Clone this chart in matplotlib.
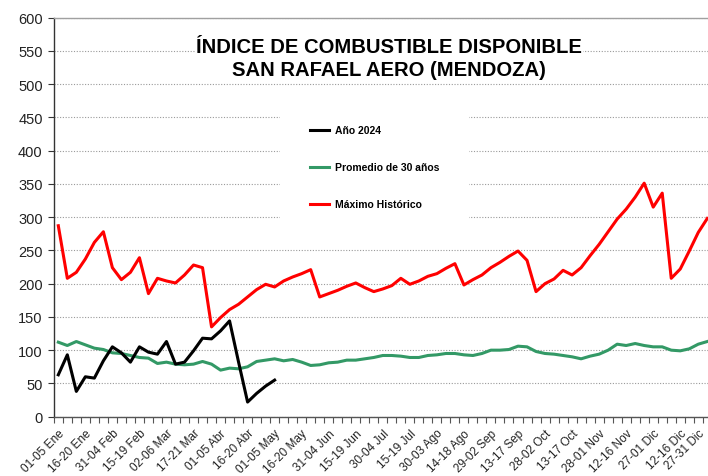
import numpy as np
import matplotlib
matplotlib.use("Agg")
import matplotlib.pyplot as plt
import matplotlib.transforms as mtransforms
from matplotlib.ticker import FixedLocator, MultipleLocator, NullFormatter

plt.rcParams['font.family'] = ['Liberation Sans', 'DejaVu Sans']

tick_labels = ["01-05 Ene", "16-20 Ene", "31-04 Feb", "15-19 Feb", "02-06 Mar", "17-21 Mar",
               "01-05 Abr", "16-20 Abr", "01-05 May", "16-20 May", "31-04 Jun", "15-19 Jun",
               "30-04 Jul", "15-19 Jul", "30-03 Ago", "14-18 Ago", "29-02 Sep", "13-17 Sep",
               "28-02 Oct", "13-17 Oct", "28-01 Nov", "12-16 Nov", "27-01 Dic", "12-16 Dic",
               "27-31 Dic"]

anio_2024 = [63, 93, 38, 60, 58, 84, 105, 96, 82, 105, 97, 94, 113, 79, 82, 99, 118, 117,
             129, 144, 82, 22, 35, 46, 55]

promedio_30 = [112, 107, 113, 108, 103, 101, 96, 95, 92, 89, 88, 80, 82, 79, 78, 79, 83, 79,
               70, 73, 72, 75, 83, 85, 87, 84, 86, 82, 77, 78, 81, 82, 85, 85, 87, 89, 92, 92,
               91, 89, 89, 92, 93, 95, 95, 93, 92, 95, 100, 100, 101, 106, 105, 98, 95, 94, 92,
               90, 87, 91, 94, 100, 109, 107, 110, 107, 105, 105, 100, 99, 102, 109, 113]

maximo_hist = [287, 208, 217, 237, 262, 278, 224, 206, 217, 239, 185, 208, 204, 201, 213, 228,
               224, 135, 149, 161, 169, 180, 191, 199, 195, 204, 210, 215, 221, 180, 185, 190,
               196, 201, 194, 188, 192, 197, 208, 199, 204, 211, 215, 223, 230, 198, 206, 213,
               224, 232, 241, 249, 235, 188, 200, 207, 220, 213, 224, 242, 259, 278, 297, 312,
               330, 351, 315, 336, 208, 222, 249, 277, 298]

n = len(maximo_hist)
x = np.arange(n)
x24 = np.arange(len(anio_2024))

W, H = 708, 477
fig = plt.figure(figsize=(W / 100, H / 100), dpi=100)
ax = fig.add_axes([53.8 / W, 59.3 / H, (711.8 - 53.8) / W, (417.7 - 18.5) / H])

ax.plot(x24, anio_2024, color='black', lw=2.2, label='Año 2024', zorder=4)
ax.plot(x, promedio_30, color='#339966', lw=2.2, label='Promedio de 30 años', zorder=3)
ax.plot(x, maximo_hist, color='#ff0000', lw=2.2, label='Máximo Histórico', zorder=3)

ax.set_xlim(-0.5, n - 0.5)
ax.set_ylim(0, 600)
ax.yaxis.set_major_locator(MultipleLocator(50))
ax.grid(axis='y', color='#9a9a9a', linestyle=(0, (1, 1.5)), lw=0.8, zorder=0)
ax.set_axisbelow(True)

label_pos = np.arange(0, n, 3)
ax.xaxis.set_major_locator(FixedLocator(label_pos))
ax.xaxis.set_major_formatter(NullFormatter())
ax.xaxis.set_minor_locator(FixedLocator(np.arange(-0.5, n, 1)))
ax.tick_params(axis='x', which='major', length=0)
ax.tick_params(axis='x', which='minor', length=4, width=0.8, color='#555555', direction='out')
ax.tick_params(axis='y', length=4, width=0.8, color='#333333', labelsize=10.5,
               labelcolor='#222222', pad=4)

for k, (pos, txt) in enumerate(zip(label_pos, tick_labels)):
    dx = 4 if k < len(tick_labels) - 1 else -5
    off = mtransforms.ScaledTranslation(dx / 100, -14.5 / 100, fig.dpi_scale_trans)
    ax.text(pos, 0, txt, transform=ax.get_xaxis_transform() + off, rotation=45,
            ha='right', va='center', rotation_mode='anchor', fontsize=8.5,
            color='#222222', clip_on=False)

ax.spines['right'].set_visible(False)
ax.spines['top'].set_color('#a0a0a0')
ax.spines['top'].set_linewidth(1.0)
ax.spines['left'].set_color('#333333')
ax.spines['bottom'].set_color('#555555')
ax.spines['left'].set_linewidth(1.0)
ax.spines['bottom'].set_linewidth(1.0)

fig.text(389 / W, 1 - 59 / H, "ÍNDICE DE COMBUSTIBLE DISPONIBLE\nSAN RAFAEL AERO (MENDOZA)",
         ha='center', va='center', fontsize=14.6, fontweight='bold', linespacing=1.25,
         bbox=dict(facecolor='white', edgecolor='none', pad=1), zorder=5)

leg = ax.legend(loc='upper left', bbox_to_anchor=(280 / W, 1 - 96 / H),
                bbox_transform=fig.transFigure, frameon=True, fancybox=False,
                prop=dict(weight='bold', size=7.5), handlelength=1.85, handletextpad=0.5,
                labelspacing=2.6, borderpad=2.9, borderaxespad=0)
leg.get_frame().set_facecolor('white')
leg.get_frame().set_edgecolor('none')
leg.get_frame().set_alpha(1)
leg.set_zorder(5)

fig.savefig('out.png', dpi=100)
